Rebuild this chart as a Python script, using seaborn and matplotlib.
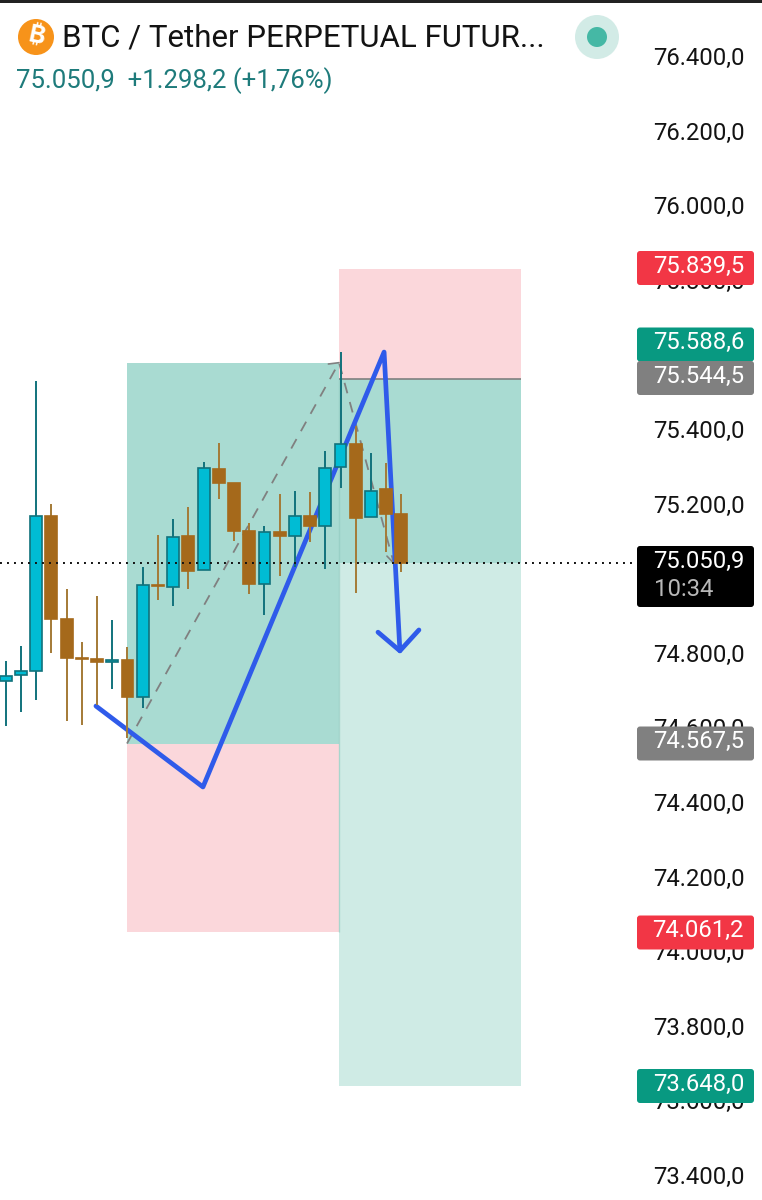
import matplotlib
matplotlib.use("Agg")
import matplotlib.pyplot as plt
from matplotlib.patches import Circle, FancyBboxPatch, Rectangle
from matplotlib.transforms import ScaledTranslation
import seaborn as sns
import pandas as pd

# ---------- DATA ----------

opens = [74735, 74750, 74762, 75177, 74901, 74796, 74793, 74785, 74792, 74693,
         74992, 74988, 75123, 75032, 75303, 75267, 75138, 74996, 75135, 75125,
         75177, 75151, 75308, 75370, 75174, 75249, 75184]
highs = [74790, 74829, 75539, 75211, 74981, 74839, 74964, 74900, 74827, 75042,
         75126, 75169, 75202, 75321, 75374, 75267, 75160, 75151, 75236, 75245,
         75241, 75353, 75616, 75419, 75346, 75319, 75236]
lows = [74615, 74653, 74684, 74809, 74628, 74617, 74671, 74713, 74582, 74662,
        74952, 74937, 74982, 75032, 75223, 75110, 74968, 74912, 75017, 75042,
        75109, 75035, 75252, 74972, 75174, 75080, 75027]
closes = [74749, 74761, 75177, 74902, 74796, 74793, 74785, 74792, 74693, 74992,
          74990, 75122, 75031, 75305, 75267, 75138, 74995, 75134, 75125, 75177,
          75151, 75306, 75370, 75171, 75245, 75184, 75052]

tick_prices = [76400, 76200, 76000, 75800, 75600, 75400, 75200, 75000,
               74800, 74600, 74400, 74200, 74000, 73800, 73600, 73400]

last_price = 75050.9
long_target = 75588.6
long_entry = 74567.5
long_stop = 74061.2
short_stop = 75839.5
short_entry = 75544.5
short_target = 73648.0
long_x = [7.97, 21.9]
short_x = [21.9, 33.85]

drawn_x = [5.93, 12.96, 24.86, 25.9]
drawn_price = [74668, 74451, 75617, 74816]
arrow_x = [24.46, 25.9, 27.15]
arrow_price = [74866, 74816, 74872]

dash_x = [7.97, 21.9, 25.5]
dash_price = [74567.5, 75588.6, 75050.9]
dash_head_a_x = [21.2, 21.9]
dash_head_a_price = [75585, 75588.6]
dash_head_b_x = [25.05, 25.5]
dash_head_b_price = [75070, 75050.9]

price_labels = ["75.839,5", "75.588,6", "75.544,5", "74.567,5", "74.061,2", "73.648,0"]
label_colors = ["#F23645", "#089981", "#808080", "#808080", "#F23645", "#089981"]
label_centers = [268, 344.5, 378, 743.5, 932.5, 1086]

# ---------- STYLE ----------

sns.set_theme(style="white")
plt.rcParams["font.family"] = ["Roboto", "DejaVu Sans"]

UP_FILL = "#00BCD4"
UP_LINE = "#11727C"
DOWN_FILL = "#A5691B"
DOWN_LINE = "#A47A36"
GREEN_DARK = "#A9DBD2"
GREEN_LIGHT = "#CFEBE5"
RED_LIGHT = "#FBD7DB"
BLUE = "#2F5BEA"
GREY = "#808080"

fig = plt.figure(figsize=(7.62, 12.0), dpi=100)
ax = fig.add_axes([0, 0, 1, 1])
ax.set_xlim(-0.3745, 49.69)
ax.set_ylim(73343.7, 76560.9)

# ---------- POSITION BOXES ----------

ax.fill_between(long_x, long_entry, long_target, color=GREEN_DARK, lw=0, zorder=1)
ax.fill_between(long_x, long_stop, long_entry, color=RED_LIGHT, lw=0, zorder=1)
ax.fill_between(short_x, short_entry, short_stop, color=RED_LIGHT, lw=0, zorder=1)
ax.fill_between(short_x, last_price, short_entry, color=GREEN_DARK, lw=0, zorder=1)
ax.fill_between(short_x, short_target, last_price, color=GREEN_LIGHT, lw=0, zorder=1)
ax.vlines(short_x[0], long_stop, short_entry, color="#8FC9BE", lw=1, alpha=0.6, zorder=1.5)
ax.hlines(short_entry, short_x[0], short_x[1], color=GREY, lw=1.2, zorder=2)

# ---------- DRAWINGS ----------

dash_style = {"color": GREY, "lw": 1.3, "dashes": (6, 5), "zorder": 2.5}
ax.plot(dash_x, dash_price, **dash_style)
ax.plot(dash_head_a_x, dash_head_a_price, color=GREY, lw=1.2, zorder=2.5)
ax.plot(dash_head_b_x, dash_head_b_price, color=GREY, lw=1.2, zorder=2.5)

drawn = pd.DataFrame({"x": drawn_x, "price": drawn_price})
sns.lineplot(data=drawn, x="x", y="price", sort=False, estimator=None, color=BLUE,
             lw=3.4, ax=ax, zorder=3, solid_joinstyle="round", solid_capstyle="round")
arrow = pd.DataFrame({"x": arrow_x, "price": arrow_price})
sns.lineplot(data=arrow, x="x", y="price", sort=False, estimator=None, color=BLUE,
             lw=3.4, ax=ax, zorder=3, solid_joinstyle="round", solid_capstyle="round")

# ---------- CANDLES ----------

for i, (o, h, l, c) in enumerate(zip(opens, highs, lows, closes)):
    is_up = c >= o
    ax.vlines(i, l, h, color=UP_LINE if is_up else DOWN_LINE, lw=1.4, zorder=4)
    ax.bar(i, abs(c - o), bottom=min(o, c), width=0.78,
           color=UP_FILL if is_up else DOWN_FILL,
           edgecolor=UP_LINE if is_up else DOWN_FILL, linewidth=1.2, zorder=5)

ax.axhline(last_price, xmax=637 / 762, color="#111111", lw=1.4, dashes=(1, 2.6), zorder=6)

# ---------- PRICE AXIS ----------

ax.yaxis.tick_right()
ax.set_yticks(tick_prices)
ax.set_yticklabels([f"{p // 1000}.{p % 1000:03d},0" for p in tick_prices])
ax.tick_params(axis="y", length=0, pad=-13, labelsize=17.2, labelcolor="#131313")
nudge = ScaledTranslation(1 / 100, 4 / 100, fig.dpi_scale_trans)
for label in ax.get_yticklabels():
    label.set_ha("right")
    label.set_transform(label.get_transform() + nudge)
ax.set_xticks([])
ax.set_xlabel("")
ax.set_ylabel("")
sns.despine(ax=ax, left=True, bottom=True, top=True, right=True)

# ---------- HEADER AND LABELS (pixel overlay) ----------

top = fig.add_axes([0, 0, 1, 1])
top.set_xlim(0, 762)
top.set_ylim(1200, 0)
top.axis("off")
top.patch.set_alpha(0)

top.add_patch(Rectangle((0, 0), 762, 3, color="#222222", lw=0))
top.add_patch(Circle((36, 37), 18, color="#F7931A", lw=0))
# the bitcoin sign is only in some of the installed families
top.text(36, 37, "\u20bf", color="white", fontsize=18, fontweight="bold", rotation=-12,
         ha="center", va="center",
         family=["Inter", "Noto Sans", "Open Sans", "Lato", "Roboto", "Liberation Sans",
                 "Noto Sans CJK SC", "DejaVu Sans"])
top.text(62, 38, "BTC / Tether PERPETUAL FUTUR...", color="#131313", fontsize=22.5,
         ha="left", va="center")
top.text(16, 81, "75.050,9  +1.298,2 (+1,76%)", color="#1E7B7B", fontsize=18.5,
         ha="left", va="center")
top.add_patch(Circle((597, 37), 22, color="#D2EBE6", lw=0))
top.add_patch(Circle((597, 37), 10, color="#45B8A5", lw=0))

for text, color, yc in zip(price_labels, label_colors, label_centers):
    top.add_patch(FancyBboxPatch((637, yc - 17), 117, 34, boxstyle="round,pad=0,rounding_size=3",
                                 fc=color, ec="none"))
    top.text(744, yc - 2, text, color="white", fontsize=17.2, ha="right", va="center")

top.add_patch(FancyBboxPatch((637, 546), 117, 61, boxstyle="round,pad=0,rounding_size=3",
                             fc="black", ec="none"))
top.text(744, 561, "75.050,9", color="white", fontsize=17.2, ha="right", va="center")
top.text(654, 589, "10:34", color="#B8B8B8", fontsize=17.2, ha="left", va="center")

fig.savefig("out.png", dpi=100)
